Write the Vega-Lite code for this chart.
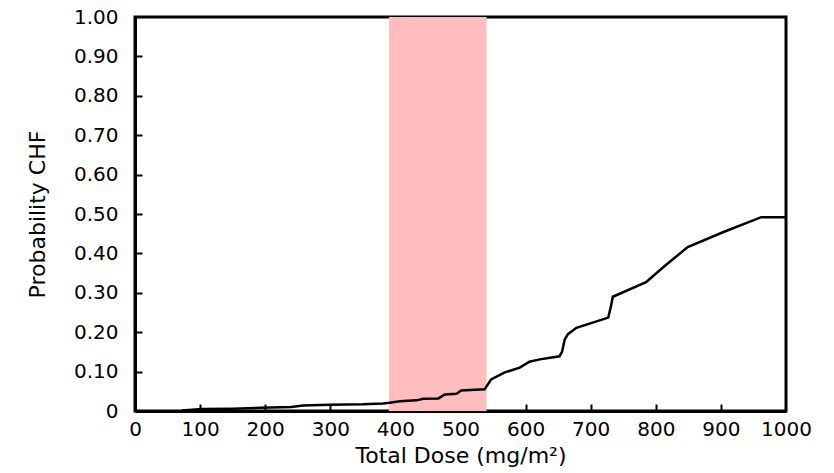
{
  "$schema": "https://vega.github.io/schema/vega-lite/v6.json",
  "width": 651,
  "height": 394,
  "autosize": {"type": "none"},
  "padding": {"left": 135, "top": 17, "right": 48, "bottom": 62},
  "background": "white",
  "config": {
    "view": {"stroke": "black", "strokeWidth": 3},
    "font": "DejaVu Sans",
    "axis": {
      "domainColor": "black",
      "domainWidth": 3,
      "tickColor": "black",
      "tickWidth": 2,
      "grid": false,
      "zindex": 1,
      "labelColor": "black",
      "labelFont": "DejaVu Sans",
      "labelFontSize": 20,
      "titleColor": "black",
      "titleFont": "DejaVu Sans",
      "titleFontSize": 22,
      "titleFontWeight": "normal"
    }
  },
  "resolve": {"axis": {"x": "independent", "y": "independent"}},
  "datasets": {
    "band": [{"start": 390, "end": 540}],
    "curve": [
      {"dose": 72, "prob": 0.001},
      {"dose": 102, "prob": 0.005},
      {"dose": 150, "prob": 0.006},
      {"dose": 192, "prob": 0.008},
      {"dose": 240, "prob": 0.010},
      {"dose": 258, "prob": 0.014},
      {"dose": 299, "prob": 0.016},
      {"dose": 350, "prob": 0.017},
      {"dose": 381, "prob": 0.019},
      {"dose": 391, "prob": 0.021},
      {"dose": 407, "prob": 0.025},
      {"dose": 432, "prob": 0.027},
      {"dose": 443, "prob": 0.031},
      {"dose": 466, "prob": 0.032},
      {"dose": 476, "prob": 0.042},
      {"dose": 494, "prob": 0.044},
      {"dose": 501, "prob": 0.052},
      {"dose": 537, "prob": 0.055},
      {"dose": 547, "prob": 0.080},
      {"dose": 568, "prob": 0.098},
      {"dose": 591, "prob": 0.110},
      {"dose": 606, "prob": 0.125},
      {"dose": 622, "prob": 0.131},
      {"dose": 652, "prob": 0.139},
      {"dose": 656, "prob": 0.150},
      {"dose": 660, "prob": 0.181},
      {"dose": 665, "prob": 0.195},
      {"dose": 678, "prob": 0.211},
      {"dose": 727, "prob": 0.237},
      {"dose": 731, "prob": 0.265},
      {"dose": 734, "prob": 0.290},
      {"dose": 785, "prob": 0.327},
      {"dose": 815, "prob": 0.370},
      {"dose": 849, "prob": 0.416},
      {"dose": 905, "prob": 0.455},
      {"dose": 962, "prob": 0.492},
      {"dose": 1000, "prob": 0.492}
    ]
  },
  "layer": [
    {
      "data": {"name": "band"},
      "mark": {"type": "rect", "color": "#FFBDBD"},
      "encoding": {
        "x": {
          "field": "start",
          "type": "quantitative",
          "scale": {"domain": [0, 1000], "nice": false},
          "axis": {
            "orient": "bottom",
            "values": [100, 200, 300, 400, 500, 600, 700, 800, 900],
            "tickSize": -7,
            "tickColor": "black",
            "ticks": true,
            "domain": false,
            "labels": true,
            "labelExpr": "''",
            "title": null
          }
        },
        "x2": {"field": "end"},
        "y": {
          "datum": 0,
          "type": "quantitative",
          "scale": {"domain": [0, 1], "nice": false},
          "axis": {
            "orient": "left",
            "values": [0.1, 0.2, 0.3, 0.4, 0.5, 0.6, 0.7, 0.8, 0.9],
            "tickSize": -7,
            "tickColor": "black",
            "ticks": true,
            "domain": false,
            "labels": true,
            "labelExpr": "''",
            "title": null
          }
        },
        "y2": {"datum": 1}
      }
    },
    {
      "data": {"name": "curve"},
      "mark": {"type": "line", "color": "black", "strokeWidth": 2.5, "clip": true},
      "encoding": {
        "x": {
          "field": "dose",
          "type": "quantitative",
          "scale": {"domain": [0, 1000], "nice": false},
          "axis": {
            "orient": "bottom",
            "title": "Total Dose (mg/m²)",
            "values": [0, 100, 200, 300, 400, 500, 600, 700, 800, 900, 1000],
            "format": "d",
            "ticks": false,
            "labelPadding": 8,
            "labelFlush": false,
            "titlePadding": 6
          }
        },
        "y": {
          "field": "prob",
          "type": "quantitative",
          "scale": {"domain": [0, 1], "nice": false},
          "axis": {
            "orient": "left",
            "title": "Probability CHF",
            "values": [0, 0.1, 0.2, 0.3, 0.4, 0.5, 0.6, 0.7, 0.8, 0.9, 1.0],
            "labelExpr": "datum.value == 0 ? '0' : format(datum.value, '.2f')",
            "ticks": false,
            "labelPadding": 17,
            "labelFlush": false,
            "titlePadding": 24
          }
        }
      }
    }
  ]
}
